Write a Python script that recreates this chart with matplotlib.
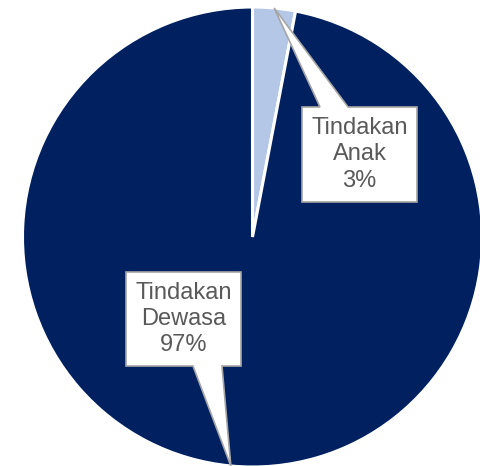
import numpy as np
import matplotlib.pyplot as plt
from matplotlib.patches import Polygon

# data
labels = ['Tindakan\nAnak', 'Tindakan\nDewasa']
values = [3, 97]
colors = ['#B4C7E7', '#002060']

W, H = 480, 466
fig = plt.figure(figsize=(W / 100, H / 100), dpi=100)
ax = fig.add_axes([0, 0, 1, 1])

cx, cy, r = 252.5, 229, 230
wedges, _ = ax.pie(values, colors=colors, startangle=90, counterclock=False,
                   center=(cx, cy), radius=r, explode=[0.012, 0],
                   wedgeprops=dict(edgecolor='white', linewidth=2.2),
                   frame=True)
ax.set_xlim(0, W)
ax.set_ylim(0, H)
ax.set_aspect('equal')
ax.axis('off')

# callout boxes: (x0, x1, y0, y1), pointer base on top or bottom edge
boxes = [(302, 417, 264, 359, 'top', 320, 348),
         (126, 241, 100, 194, 'bottom', 193, 222)]

total = sum(values)
start = 90
for (lab, v, box) in zip(labels, values, boxes):
    x0, x1, y0, y1, side, b0, b1 = box
    mid = np.deg2rad(start - 360 * v / total / 2)
    start -= 360 * v / total
    tx, ty = cx + r * np.cos(mid), cy + r * np.sin(mid)
    if side == 'top':
        pts = [(x0, y0), (x1, y0), (x1, y1), (b1, y1), (tx, ty), (b0, y1), (x0, y1)]
    else:
        pts = [(x0, y0), (b0, y0), (tx, ty), (b1, y0), (x1, y0), (x1, y1), (x0, y1)]
    ax.add_patch(Polygon(pts, closed=True, facecolor='white', edgecolor='#A6A6A6',
                         linewidth=1.2, zorder=5, clip_on=False))
    ax.text((x0 + x1) / 2, (y0 + y1) / 2, f'{lab}\n{v}%', ha='center', va='center',
            fontsize=17, color='#595959', family='Liberation Sans',
            linespacing=1.25, zorder=6)

fig.savefig('out.png', dpi=100)
